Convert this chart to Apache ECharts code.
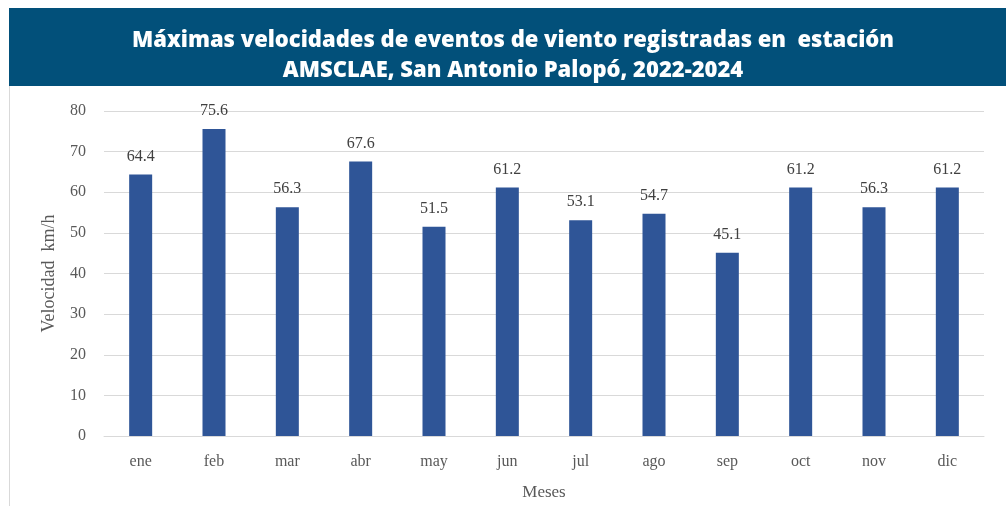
<!DOCTYPE html>
<html>
<head>
<meta charset="utf-8">
<script src="https://cdn.jsdelivr.net/npm/echarts@6/dist/echarts.min.js"></script>
<style>
  body { margin: 0; background: #fff; }
  #main { width: 1006px; height: 506px; }
</style>
</head>
<body>
<div id="main"></div>
<script>
var myChart = echarts.init(document.getElementById('main'));

var months = ['ene', 'feb', 'mar', 'abr', 'may', 'jun', 'jul', 'ago', 'sep', 'oct', 'nov', 'dic'];
var maxSpeed = [64.4, 75.6, 56.3, 67.6, 51.5, 61.2, 53.1, 54.7, 45.1, 61.2, 56.3, 61.2];

var serif = '"Liberation Serif", "DejaVu Serif", serif';

var option = {
    backgroundColor: '#ffffff',
    animation: false,
    graphic: [{
        type: 'rect',
        left: 9, top: 8,
        shape: { width: 997, height: 78 },
        style: { fill: '#02507A' },
        z: 0
    }, {
        type: 'line',
        shape: { x1: 9.5, y1: 86, x2: 9.5, y2: 506 },
        style: { stroke: '#D9D9D9', lineWidth: 1 }
    }],
    title: {
        text: 'Máximas velocidades de eventos de viento registradas en  estación\nAMSCLAE, San Antonio Palopó, 2022-2024',
        left: 508,
        textAlign: 'center',
        top: 21,
        z: 10,
        textStyle: {
            fontFamily: '"Open Sans", "Noto Sans", sans-serif',
            fontSize: 22,
            fontWeight: 800,
            color: '#ffffff',
            lineHeight: 30
        }
    },
    grid: {
        left: 104,
        right: 22,
        top: 111,
        bottom: 69
    },
    xAxis: {
        type: 'category',
        data: months,
        name: 'Meses',
        nameLocation: 'middle',
        nameGap: 48,
        nameTextStyle: { fontFamily: serif, fontSize: 17, color: '#595959' },
        axisTick: { show: false },
        axisLine: { lineStyle: { color: '#D9D9D9', width: 1 } },
        axisLabel: { fontFamily: serif, fontSize: 16, color: '#595959', margin: 18 }
    },
    yAxis: {
        type: 'value',
        min: 0,
        max: 80,
        interval: 10,
        name: 'Velocidad  km/h',
        nameLocation: 'middle',
        nameGap: 46,
        nameTextStyle: { fontFamily: serif, fontSize: 18, color: '#595959' },
        axisLine: { show: false },
        axisTick: { show: false },
        axisLabel: { fontFamily: serif, fontSize: 16, color: '#595959', margin: 18 },
        splitLine: { lineStyle: { color: '#D9D9D9', width: 1 } }
    },
    series: [{
        type: 'bar',
        data: maxSpeed,
        barWidth: 23,
        itemStyle: { color: '#2F5597' },
        label: {
            show: true,
            position: 'top',
            distance: 10,
            fontFamily: serif,
            fontSize: 16,
            color: '#404040'
        }
    }]
};
myChart.setOption(option);
</script>
</body>
</html>
